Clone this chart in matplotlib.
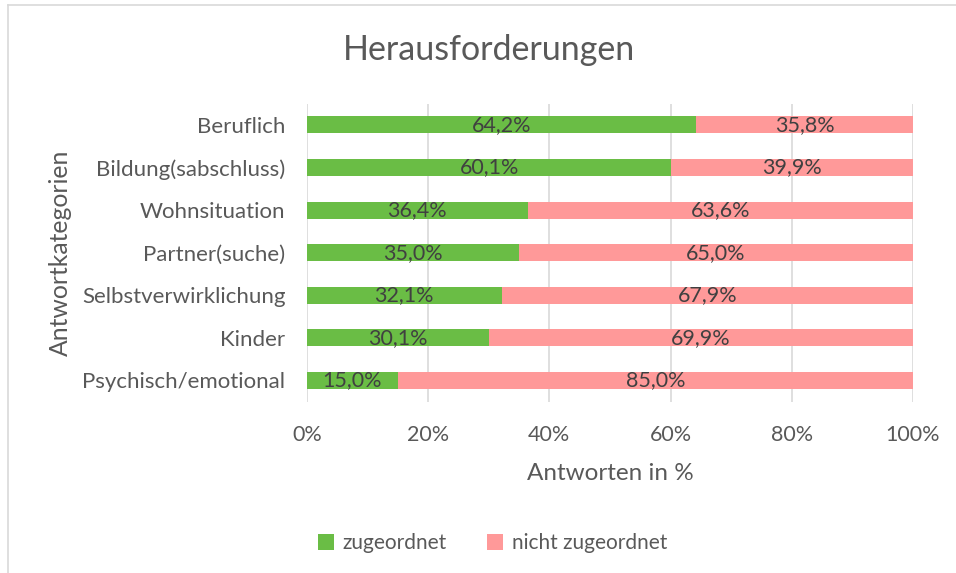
import numpy as np
import matplotlib
matplotlib.use('Agg')
import matplotlib.pyplot as plt
from matplotlib.lines import Line2D

plt.rcParams['font.family'] = ['Lato', 'DejaVu Sans']

# categories from top to bottom as shown
categories = ['Beruflich', 'Bildung(sabschluss)', 'Wohnsituation', 'Partner(suche)',
              'Selbstverwirklichung', 'Kinder', 'Psychisch/emotional']
zugeordnet = [64.2, 60.1, 36.4, 35.0, 32.1, 30.1, 15.0]
nicht_zugeordnet = [35.8, 39.9, 63.6, 65.0, 67.9, 69.9, 85.0]
x_ticks = [0, 20, 40, 60, 80, 100]

green = '#6abd45'
pink = '#ff9999'
axis_txt = '#595959'
label_txt = '#404040'

fig = plt.figure(figsize=(9.56, 5.73), dpi=100)
ax = fig.add_axes([0.3211, 0.2988, 0.6339, 0.5203])

y = np.arange(len(categories))
b1 = ax.barh(y, zugeordnet, height=0.4, color=green, label='zugeordnet', zorder=3)
b2 = ax.barh(y, nicht_zugeordnet, left=zugeordnet, height=0.4, color=pink,
             label='nicht zugeordnet', zorder=3)

for bars, vals in ((b1, zugeordnet), (b2, nicht_zugeordnet)):
    ax.bar_label(bars, labels=[f'{v:.1f}%'.replace('.', ',') for v in vals],
                 label_type='center', color=label_txt, fontsize=15.5)

ax.set_xlim(0, 100)
ax.set_ylim(len(categories) - 0.5, -0.5)
ax.set_xticks(x_ticks)
ax.set_xticklabels([f'{t}%' for t in x_ticks])
ax.set_yticks(y)
ax.set_yticklabels(categories)
ax.tick_params(axis='both', length=0, colors=axis_txt)
ax.tick_params(axis='x', pad=17, labelsize=15.5)
ax.tick_params(axis='y', pad=15.5, labelsize=16)
ax.grid(axis='x', color='#d9d9d9', linewidth=1.2, zorder=0)
for s in ax.spines.values():
    s.set_visible(False)

ax.set_xlabel('Antworten in %', color=axis_txt, fontsize=17.5, labelpad=13)
ax.set_ylabel('Antwortkategorien', color=axis_txt, fontsize=17.8, labelpad=7)

fig.text(0.511, 0.912, 'Herausforderungen', ha='center', va='center',
         color=axis_txt, fontsize=24.5)

fig.legend(loc='center', bbox_to_anchor=(0.515, 0.052), ncol=2, frameon=False,
           fontsize=15, labelcolor=axis_txt, handlelength=0.8, handleheight=0.8,
           handletextpad=0.4, columnspacing=1.9)

# chart area border (cropped: only top and left visible)
fig.add_artist(Line2D([0.0084, 1], [0.991, 0.991], color='#d9d9d9', lw=1.2))
fig.add_artist(Line2D([0.0084, 0.0084], [0, 0.991], color='#d9d9d9', lw=1.2))

fig.savefig('out.png', dpi=100)
plt.close(fig)
